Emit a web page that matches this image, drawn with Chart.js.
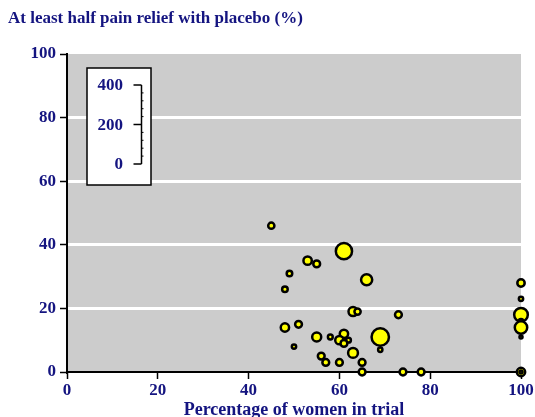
<!DOCTYPE html>
<html>
<head>
<meta charset="utf-8">
<script src="https://cdn.jsdelivr.net/npm/chart.js@4.4.0/dist/chart.umd.min.js"></script>
<style>
  html, body { margin: 0; padding: 0; background: #ffffff; }
  #wrap { width: 535px; height: 417px; }
</style>
</head>
<body>
<div id="wrap"><canvas id="myChart" width="535" height="417"></canvas></div>
<script>
// percentage of women in each trial
const women = [45, 61, 53, 55, 49, 48, 66, 63, 64, 73, 48, 51, 55, 58, 61, 60, 62, 61, 69, 69,
               50, 56, 57, 60, 63, 65, 65, 74, 78, 100, 100, 100, 100, 100, 100, 100, 100];
// at least half pain relief with placebo (%)
const relief = [46, 38, 35, 34, 31, 26, 29, 19, 19, 18, 14, 15, 11, 11, 12, 10, 10, 9, 11, 7,
                8, 5, 3, 3, 6, 3, 0, 0, 0, 28, 23, 18, 16, 14, 11, 0, 0];
// number of patients in trial (bubble size)
const trialSize = [50, 340, 90, 60, 40, 40, 160, 105, 50, 60, 90, 60, 105, 30, 90, 90, 30, 60, 390, 24,
                   24, 60, 60, 60, 125, 60, 60, 60, 60, 70, 24, 240, 24, 200, 12, 90, 12];

const xTicks = [0, 20, 40, 60, 80, 100];
const yTicks = [0, 20, 40, 60, 80, 100];
const sizeTicks = [0, 200, 400];

const navy = '#141480';
const family = "'Liberation Serif', 'DejaVu Serif', serif";
const tickFont = { family: family, size: 17, weight: 'bold' };
const titleFont = { family: family, size: 17, weight: 'bold' };
const axisTitleFont = { family: family, size: 18, weight: 'bold' };

const points = women.map((w, i) => ({ x: w, y: relief[i], r: Math.sqrt(trialSize[i]) * 0.44 }));

const background = {
    id: 'background',
    beforeDraw(chart) {
        const a = chart.chartArea;
        const c = chart.ctx;
        c.save();
        c.fillStyle = '#cccccc';
        c.fillRect(a.left, a.top, a.right - a.left, a.bottom - a.top);
        c.restore();
    }
};

// little box showing the trial size scale
const sizeKey = {
    id: 'sizeKey',
    afterDraw(chart) {
        const a = chart.chartArea;
        const c = chart.ctx;
        const bx = a.left + 20, by = a.top + 14, bw = 64, bh = 117;
        const axX = bx + 54.5, y0 = by + 96, y1 = by + 17;
        const yFor = v => y0 - v / 400 * (y0 - y1);
        c.save();
        c.fillStyle = '#ffffff';
        c.fillRect(bx, by, bw, bh);
        c.strokeStyle = '#000000';
        c.lineWidth = 1.5;
        c.strokeRect(bx, by, bw, bh);
        c.beginPath();
        c.moveTo(axX, y0);
        c.lineTo(axX, y1);
        c.stroke();
        sizeTicks.forEach(v => {
            c.beginPath();
            c.moveTo(axX - 8, yFor(v));
            c.lineTo(axX, yFor(v));
            c.stroke();
        });
        c.lineWidth = 1;
        for (let v = 40; v < 400; v += 40) {
            if (v === 200) continue;
            c.beginPath();
            c.moveTo(axX, yFor(v));
            c.lineTo(axX + 2, yFor(v));
            c.stroke();
        }
        c.fillStyle = navy;
        c.font = 'bold 17px ' + family;
        c.textAlign = 'right';
        c.textBaseline = 'middle';
        sizeTicks.forEach(v => c.fillText(String(v), bx + 36, yFor(v) + 1));
        c.restore();
    }
};

const ctx = document.getElementById('myChart');
const myChart = new Chart(ctx, {
    type: 'bubble',
    data: {
        datasets: [{
            label: 'Trials',
            data: points,
            backgroundColor: '#ffff00',
            borderColor: '#000000',
            borderWidth: 2.5,
            clip: false
        }]
    },
    options: {
        responsive: false,
        animation: false,
        layout: { padding: { left: 8, right: 14, top: 0, bottom: 0 } },
        plugins: {
            legend: { display: false },
            tooltip: { enabled: false },
            title: {
                display: true,
                text: 'At least half pain relief with placebo (%)',
                align: 'start',
                color: navy,
                font: titleFont,
                padding: { top: 8, bottom: 25.6 }
            }
        },
        scales: {
            x: {
                type: 'linear',
                min: 0,
                max: 100,
                afterBuildTicks: s => { s.ticks = xTicks.map(v => ({ value: v })); },
                afterFit: s => { s.height = 45; s.paddingLeft = 0; s.paddingRight = 0; },
                ticks: { color: navy, font: tickFont, padding: 1, maxRotation: 0 },
                grid: { drawOnChartArea: false, tickColor: '#000000', tickLength: 7, tickWidth: 1.5 },
                border: { display: true, color: '#000000', width: 2 },
                title: {
                    display: true,
                    text: 'Percentage of women in trial',
                    color: navy,
                    font: axisTitleFont,
                    padding: { top: 0, bottom: -4 }
                }
            },
            y: {
                type: 'linear',
                min: 0,
                max: 100,
                afterBuildTicks: s => { s.ticks = yTicks.map(v => ({ value: v })); },
                afterFit: s => { s.width = 59; s.paddingTop = 0; s.paddingBottom = 0; },
                ticks: { color: navy, font: tickFont, padding: 4 },
                grid: {
                    color: c => (c.tick && c.tick.value > 0 && c.tick.value < 100) ? '#ffffff' : 'rgba(0,0,0,0)',
                    lineWidth: 3,
                    tickColor: '#000000',
                    tickLength: 7,
                    tickWidth: 1.5
                },
                border: { display: true, color: '#000000', width: 2 }
            }
        }
    },
    plugins: [background, sizeKey]
});
</script>
</body>
</html>
